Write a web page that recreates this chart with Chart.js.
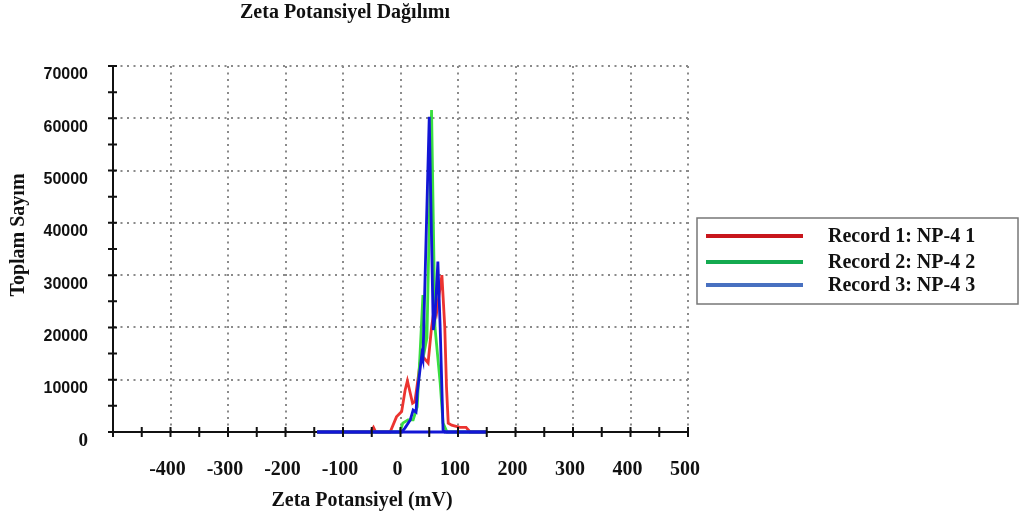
<!DOCTYPE html>
<html>
<head>
<meta charset="utf-8">
<title>Zeta Potansiyel Dağılımı</title>
<script src="https://cdn.jsdelivr.net/npm/chart.js@4.4.0/dist/chart.umd.min.js"></script>
<style>
    html, body { margin: 0; padding: 0; background: #fff; }
    #wrap { width: 1029px; height: 522px; position: relative; }
</style>
</head>
<body>
<div id="wrap"><canvas id="chart"></canvas></div>
<script>
    // texts
    const chartTitle = 'Zeta Potansiyel Dağılımı';
    const xTitle = 'Zeta Potansiyel (mV)';
    const yTitle = 'Toplam Sayım';
    const seriesNames = ['Record 1: NP-4 1', 'Record 2: NP-4 2', 'Record 3: NP-4 3'];

    // axes
    const xMin = -500, xMax = 500, xStep = 100;
    const yMin = 0, yMax = 70000, yStep = 10000;

    // Record 1 (red)
    const zetaRed  = [-145, -52, -47, -43, -18, -7, 2, 8, 12, 17, 21, 25, 31, 34, 39, 48, 54, 60, 63, 72, 77, 80, 83, 89, 103, 114, 121, 150];
    const countRed = [0, 0, 900, 0, 0, 2900, 3900, 8000, 9800, 7400, 5500, 5800, 10600, 13200, 14400, 13200, 20000, 24600, 23000, 30000, 20000, 8600, 1700, 1300, 900, 900, 0, 0];

    // Record 2 (green)
    const zetaGreen  = [-145, -1, 4, 13, 22, 29, 34, 39, 43, 46, 54, 60, 69, 74, 81, 150];
    const countGreen = [0, 0, 1700, 2300, 2300, 4800, 15000, 26200, 16300, 18000, 61600, 20000, 9400, 1700, 0, 0];

    // Record 3 (blue)
    const zetaBlue  = [-145, 2, 8, 17, 22, 27, 29, 37, 39, 50, 57, 60, 65, 69, 74, 77, 150];
    const countBlue = [0, 0, 800, 2300, 4200, 3800, 7400, 14700, 13800, 60300, 19500, 22000, 32600, 20000, 400, 0, 0];

    const lineColors = ['rgb(236,52,48)', 'rgb(58,222,64)', 'rgb(18,22,214)'];
    const legendColors = ['rgb(200,22,28)', 'rgb(20,170,80)', 'rgb(72,112,192)'];

    function toPoints(xs, ys) {
        return xs.map((x, i) => ({x: x, y: ys[i]}));
    }

    const serif = '"Liberation Serif", "Times New Roman", serif';
    const sans = '"Liberation Sans", Arial, sans-serif';

    // titles, legend box and the tick marks that cross the axes
    const extras = {
        id: 'extras',
        afterDraw(chart) {
            const ctx = chart.ctx;
            const a = chart.chartArea;
            const xs = chart.scales.x, ys = chart.scales.y;
            ctx.save();

            ctx.strokeStyle = '#111';
            ctx.lineWidth = 2;
            ctx.beginPath();
            for (let v = xMin; v <= xMax; v += xStep / 2) {
                let px = xs.getPixelForValue(v);
                ctx.moveTo(px, a.bottom - 5);
                ctx.lineTo(px, a.bottom + 5);
            }
            for (let v = yMin; v <= yMax; v += yStep / 2) {
                let py = ys.getPixelForValue(v);
                ctx.moveTo(a.left - 5, py);
                ctx.lineTo(a.left + 4, py);
            }
            ctx.stroke();

            ctx.fillStyle = '#111';
            ctx.textBaseline = 'middle';
            ctx.textAlign = 'center';
            ctx.font = 'bold 20px ' + serif;
            ctx.fillText(chartTitle, a.left + 232, 13);
            ctx.fillText(xTitle, a.left + 249, 501);

            ctx.save();
            ctx.translate(19, 235);
            ctx.rotate(-Math.PI / 2);
            ctx.font = 'bold 20px ' + serif;
            ctx.fillText(yTitle, 0, 0);
            ctx.restore();

            // legend
            let lx = a.right + 9, ly = 218;
            ctx.strokeStyle = '#777';
            ctx.lineWidth = 1.5;
            ctx.strokeRect(lx, ly, 321, 86);
            ctx.textAlign = 'left';
            ctx.font = 'bold 20px ' + serif;
            const rows = [18, 44, 67];
            for (let i = 0; i < seriesNames.length; i++) {
                ctx.strokeStyle = legendColors[i];
                ctx.lineWidth = 4;
                ctx.beginPath();
                ctx.moveTo(lx + 9, ly + rows[i]);
                ctx.lineTo(lx + 106, ly + rows[i]);
                ctx.stroke();
                ctx.fillText(seriesNames[i], lx + 131, ly + rows[i] + 1);
            }
            ctx.restore();
        },
        afterDatasetsDraw(chart) {
            // baseline of the last record sits on top of the axis in the original
            const meta = chart.getDatasetMeta(2);
            const ctx = chart.ctx;
            const xs = chart.scales.x, ys = chart.scales.y;
            ctx.save();
            ctx.strokeStyle = lineColors[2];
            ctx.lineWidth = 3;
            ctx.beginPath();
            ctx.moveTo(xs.getPixelForValue(zetaBlue[0]), ys.getPixelForValue(0));
            ctx.lineTo(xs.getPixelForValue(zetaBlue[zetaBlue.length - 1]), ys.getPixelForValue(0));
            ctx.stroke();
            ctx.restore();
        }
    };

    const gridDots = {color: '#8a8a8a', lineWidth: 2, drawTicks: false};

    new Chart(document.getElementById('chart'), {
        type: 'line',
        data: {
            datasets: [
                {label: seriesNames[0], data: toPoints(zetaRed, countRed), borderColor: lineColors[0], order: 3},
                {label: seriesNames[1], data: toPoints(zetaGreen, countGreen), borderColor: lineColors[1], order: 2},
                {label: seriesNames[2], data: toPoints(zetaBlue, countBlue), borderColor: lineColors[2], order: 1}
            ]
        },
        options: {
            responsive: true,
            maintainAspectRatio: false,
            animation: false,
            elements: {
                point: {radius: 0},
                line: {borderWidth: 2.8, tension: 0, fill: false}
            },
            datasets: {line: {clip: 6}},
            layout: {padding: {top: 66, right: 341, bottom: 0, left: 0}},
            plugins: {
                legend: {display: false},
                title: {display: false},
                tooltip: {enabled: false}
            },
            scales: {
                x: {
                    type: 'linear',
                    min: xMin,
                    max: xMax,
                    grid: gridDots,
                    border: {display: true, color: '#111', width: 2, dash: [2, 4.5]},
                    ticks: {
                        stepSize: xStep,
                        padding: 26,
                        labelOffset: -3,
                        color: '#111',
                        font: {family: serif, size: 20, weight: 'bold'},
                        callback: v => v === xMin ? '' : String(v)
                    },
                    afterFit: scale => { scale.height = 90; }
                },
                y: {
                    min: yMin,
                    max: yMax,
                    grid: gridDots,
                    border: {display: true, color: '#111', width: 2, dash: [2, 4.5]},
                    ticks: {
                        stepSize: yStep,
                        padding: 25,
                        labelOffset: 9,
                        color: '#111',
                        font: c => (c.tick && c.tick.value === 0)
                            ? {family: serif, size: 19, weight: 'bold'}
                            : {family: sans, size: 16, weight: 'bold'},
                        callback: v => String(v)
                    },
                    afterFit: scale => { scale.width = 113; }
                }
            }
        },
        plugins: [extras]
    });
</script>
</body>
</html>
